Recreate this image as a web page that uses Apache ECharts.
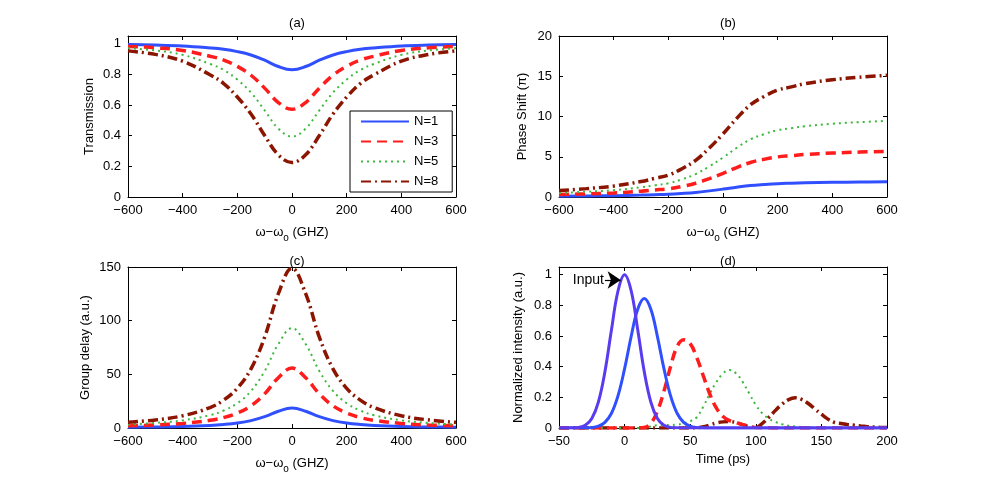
<!DOCTYPE html>
<html>
<head>
<meta charset="utf-8">
<script src="https://cdn.jsdelivr.net/npm/echarts@6/dist/echarts.min.js"></script>
<style>
html,body{margin:0;padding:0;background:#fff;}
#main{width:981px;height:488px;}
</style>
</head>
<body>
<div id="main"></div>
<script>
// detuning axis for panels a,b,c (GHz)
var freq = [-600,-500,-400,-300,-250,-200,-150,-100,-50,0,50,100,150,200,250,300,400,500,600];

// (a) transmission
var trans1 = [0.994,0.991,0.985,0.972,0.963,0.948,0.926,0.892,0.851,0.830,0.851,0.892,0.926,0.948,0.963,0.972,0.985,0.991,0.994];
var trans3 = [0.982,0.973,0.956,0.918,0.893,0.852,0.794,0.710,0.616,0.572,0.616,0.710,0.794,0.852,0.893,0.918,0.956,0.973,0.982];
var trans5 = [0.970,0.956,0.927,0.868,0.828,0.766,0.681,0.565,0.446,0.394,0.446,0.565,0.681,0.766,0.828,0.868,0.927,0.956,0.970];
var trans8 = [0.953,0.930,0.886,0.797,0.740,0.652,0.541,0.401,0.275,0.225,0.275,0.401,0.541,0.652,0.740,0.797,0.886,0.930,0.953];

// (b) phase shift (pi)
var phase1 = [0.10,0.13,0.17,0.24,0.29,0.34,0.44,0.57,0.76,0.98,1.22,1.43,1.56,1.66,1.71,1.76,1.82,1.86,1.89];
var phase3 = [0.30,0.39,0.51,0.72,0.87,1.02,1.32,1.71,2.28,2.94,3.66,4.29,4.68,4.98,5.13,5.28,5.46,5.58,5.67];
var phase5 = [0.50,0.65,0.85,1.20,1.45,1.70,2.20,2.85,3.80,4.90,6.10,7.15,7.80,8.30,8.55,8.80,9.10,9.30,9.45];
var phase8 = [0.80,1.04,1.36,1.92,2.32,2.72,3.52,4.56,6.08,7.84,9.76,11.44,12.48,13.28,13.68,14.08,14.56,14.88,15.12];

// (c) group delay (a.u.)
var delay1 = [0.66,0.94,1.4,2.4,3.25,4.6,6.9,10.6,15.6,18.6,15.6,10.6,6.9,4.6,3.25,2.4,1.4,0.94,0.66];
var delay3 = [1.98,2.81,4.26,7.14,9.75,13.9,20.7,31.8,46.9,55.8,46.9,31.8,20.7,13.9,9.75,7.14,4.26,2.81,1.98];
var delay5 = [3.3,4.7,7.1,11.9,16.3,23.1,34.5,53.0,78.2,93.0,78.2,53.0,34.5,23.1,16.3,11.9,7.1,4.7,3.3];
var delay8 = [5.3,7.5,11.4,19.0,26.0,37.0,55.1,84.7,125.1,148.8,125.1,84.7,55.1,37.0,26.0,19.0,11.4,7.5,5.3];

// (d) pulses vs time (ps)
var timePs = [-50,-45,-40,-35,-30,-25,-20,-15,-10,-5,0,5,10,15,20,25,30,35,40,45,50,55,60,65,70,75,80,85,90,95,100,
  105,110,115,120,125,130,135,140,145,150,155,160,165,170,175,180,185,190,195,200];
var pulseIn = [0,0,0.001,0.004,0.018,0.062,0.169,0.367,0.641,0.895,1,0.895,0.641,0.367,0.169,0.062,0.018,0.004,0.001,
  0,0,0,0,0,0,0,0,0,0,0,0,0,0,0,0,0,0,0,0,0,0,0,0,0,0,0,0,0,0,0,0];
var pulse1 = [0,0,0,0,0.001,0.003,0.012,0.037,0.096,0.211,0.387,0.597,0.775,0.845,0.775,0.597,0.387,0.211,0.096,0.037,0.012,0.003,0.001,
  0,0,0,0,0,0,0,0,0,0,0,0,0,0,0,0,0,0,0,0,0,0,0,0,0,0,0,0];
var pulse3 = [0,0,0,0,0,0,0,0,0,0,0,0,0,0.003,0.03,0.11,0.24,0.40,0.53,0.575,0.55,0.46,0.34,0.22,0.13,0.075,0.048,0.035,0.022,0.01,0.003,
  0.002,0.001,0,0,0,0,0,0,0,0,0,0,0,0,0,0,0,0,0,0];
var pulse5 = [0,0,0,0,0,0,0,0,0,0,0,0,0,0.003,0.01,0.018,0.02,0.02,0.022,0.03,0.045,0.07,0.14,0.225,0.30,0.356,0.378,0.356,0.30,0.225,0.15,
  0.095,0.06,0.04,0.025,0.015,0.01,0.006,0.004,0.002,0.001,0,0,0,0,0,0,0,0,0,0];
var pulse8 = [0,0,0,0,0,0,0,0,0,0,0,0,0,0,0,0,0,0,0,0,0,0.002,0.008,0.02,0.033,0.04,0.042,0.036,0.022,0.008,0.004,
  0.03,0.07,0.115,0.155,0.185,0.197,0.186,0.16,0.125,0.09,0.058,0.036,0.03,0.022,0.018,0.013,0.009,0.006,0.004,0.003];

var FONT = 'Liberation Sans, Arial, Helvetica, sans-serif';
var C1 = '#3050ff', C3 = '#ff1c1c', C5 = '#3cb83c', C8 = '#8b1500', CIN = '#5a3cf0';

function pairs(xs, ys){
	var out = [];
	for(var i=0;i<xs.length;i++){ out.push([xs[i], ys[i]]); }
	return out;
}

function fmt(v){
	return String(v).replace('-', '\u2212');
}

function mainX(grid, min, max, interval, name){
	return {
		type:'value', gridIndex:grid, min:min, max:max, interval:interval, position:'bottom',
		name:name, nameLocation:'middle', nameGap:25,
		nameTextStyle:{color:'#000', fontFamily:FONT, fontSize:13,
			rich:{sub:{fontSize:10, fontFamily:FONT, color:'#000', padding:[11,0,0,0]}}},
		axisLine:{show:true, onZero:false, lineStyle:{color:'#000', width:1}},
		axisTick:{show:true, inside:true, length:4, lineStyle:{color:'#000'}},
		axisLabel:{color:'#000', fontFamily:FONT, fontSize:13, margin:7, formatter:fmt},
		splitLine:{show:false}
	};
}
function sideX(grid, min, max, interval){
	return {
		type:'value', gridIndex:grid, min:min, max:max, interval:interval, position:'top',
		axisLine:{show:true, onZero:false, lineStyle:{color:'#000', width:1}},
		axisTick:{show:true, inside:true, length:4, lineStyle:{color:'#000'}},
		axisLabel:{show:false}, splitLine:{show:false}
	};
}
function mainY(grid, min, max, interval, name, gap){
	return {
		type:'value', gridIndex:grid, min:min, max:max, interval:interval, position:'left',
		name:name, nameLocation:'middle', nameGap:gap,
		nameTextStyle:{color:'#000', fontFamily:FONT, fontSize:13},
		axisLine:{show:true, onZero:false, lineStyle:{color:'#000', width:1}},
		axisTick:{show:true, inside:true, length:4, lineStyle:{color:'#000'}},
		axisLabel:{color:'#000', fontFamily:FONT, fontSize:13, margin:7, showMaxLabel:(max % interval === 0), formatter:fmt},
		splitLine:{show:false}
	};
}
function sideY(grid, min, max, interval){
	return {
		type:'value', gridIndex:grid, min:min, max:max, interval:interval, position:'right',
		axisLine:{show:true, onZero:false, lineStyle:{color:'#000', width:1}},
		axisTick:{show:true, inside:true, length:4, lineStyle:{color:'#000'}},
		axisLabel:{show:false}, splitLine:{show:false}
	};
}

var styles = {
	'N=1':{color:C1, width:3, type:'solid'},
	'N=3':{color:C3, width:3.5, type:[10,6]},
	'N=5':{color:C5, width:2, type:[2,4]},
	'N=8':{color:C8, width:3.5, type:[10,4,2,4]}
};

function line(name, xi, data){
	var s = styles[name];
	return {
		name:name, type:'line', xAxisIndex:xi, yAxisIndex:xi, data:data,
		smooth:0.4, symbol:'none', showSymbol:false, animation:false,
		itemStyle:{color:s.color},
		lineStyle:{color:s.color, width:s.width, type:s.type}
	};
}

var myChart = echarts.init(document.getElementById('main'));

var gridA = {left:128, top:36, width:328, height:161};
var gridB = {left:559, top:36, width:328, height:161};
var gridC = {left:128, top:267, width:328, height:161};
var gridD = {left:559, top:267, width:328, height:161};

var omega = '\u03c9\u2212\u03c9{sub|o} (GHZ)';

var inputSeries = {
	name:'Input', type:'line', xAxisIndex:3, yAxisIndex:3, data:pairs(timePs, pulseIn),
	smooth:0.4, symbol:'none', animation:false,
	itemStyle:{color:CIN},
	lineStyle:{color:CIN, width:3}
};

// arrow pointing at the input pulse
var arrowSeries = {
	name:'arrow', type:'line', xAxisIndex:3, yAxisIndex:3, data:[], z:20,
	markLine:{
		silent:true, animation:false,
		symbol:['none','arrow'], symbolSize:13,
		lineStyle:{color:'#000', width:1.2, type:'solid'},
		itemStyle:{color:'#000'},
		label:{show:true, position:'start', formatter:'Input', color:'#000', fontFamily:FONT, fontSize:14, distance:1},
		data:[[{coord:[-15,0.965]},{coord:[-3,0.965]}]]
	}
};

var option = {
	backgroundColor:'#fff',
	animation:false,
	textStyle:{fontFamily:FONT},
	title:[
		{text:'(a)', left:292, top:12, textAlign:'center', textStyle:{fontSize:13, fontWeight:'normal', color:'#000', fontFamily:FONT}},
		{text:'(b)', left:723, top:12, textAlign:'center', textStyle:{fontSize:13, fontWeight:'normal', color:'#000', fontFamily:FONT}},
		{text:'(c)', left:292, top:250, textAlign:'center', textStyle:{fontSize:13, fontWeight:'normal', color:'#000', fontFamily:FONT}},
		{text:'(d)', left:723, top:250, textAlign:'center', textStyle:{fontSize:13, fontWeight:'normal', color:'#000', fontFamily:FONT}}
	],
	legend:{
		data:['N=1','N=3','N=5','N=8'],
		orient:'vertical', left:350, top:111,
		itemWidth:48, itemHeight:14, itemGap:7,
		padding:[4,14,4,10],
		backgroundColor:'#fff', borderColor:'#000', borderWidth:1,
		itemStyle:{opacity:0},
		textStyle:{color:'#000', fontFamily:FONT, fontSize:13},
		selectedMode:false
	},
	grid:[gridA, gridB, gridC, gridD],
	xAxis:[
		mainX(0,-600,600,200,omega),
		mainX(1,-600,600,200,omega),
		mainX(2,-600,600,200,omega),
		mainX(3,-50,200,50,'Time (ps)'),
		sideX(0,-600,600,200),
		sideX(1,-600,600,200),
		sideX(2,-600,600,200),
		sideX(3,-50,200,50)
	],
	yAxis:[
		mainY(0,0,1.05,0.2,'Transmission',32),
		mainY(1,0,20,5,'Phase Shift (\u03c0)',30),
		mainY(2,0,150,50,'Group delay (a.u.)',36),
		mainY(3,0,1.05,0.2,'Normalized intensity (a.u.)',34),
		sideY(0,0,1.05,0.2),
		sideY(1,0,20,5),
		sideY(2,0,150,50),
		sideY(3,0,1.05,0.2)
	],
	series:[
		line('N=1',0,pairs(freq,trans1)),
		line('N=3',0,pairs(freq,trans3)),
		line('N=5',0,pairs(freq,trans5)),
		line('N=8',0,pairs(freq,trans8)),
		line('N=1',1,pairs(freq,phase1)),
		line('N=3',1,pairs(freq,phase3)),
		line('N=5',1,pairs(freq,phase5)),
		line('N=8',1,pairs(freq,phase8)),
		line('N=1',2,pairs(freq,delay1)),
		line('N=3',2,pairs(freq,delay3)),
		line('N=5',2,pairs(freq,delay5)),
		line('N=8',2,pairs(freq,delay8)),
		line('N=8',3,pairs(timePs,pulse8)),
		line('N=5',3,pairs(timePs,pulse5)),
		line('N=3',3,pairs(timePs,pulse3)),
		line('N=1',3,pairs(timePs,pulse1)),
		inputSeries,
		arrowSeries
	]
};
myChart.setOption(option);
</script>
</body>
</html>
